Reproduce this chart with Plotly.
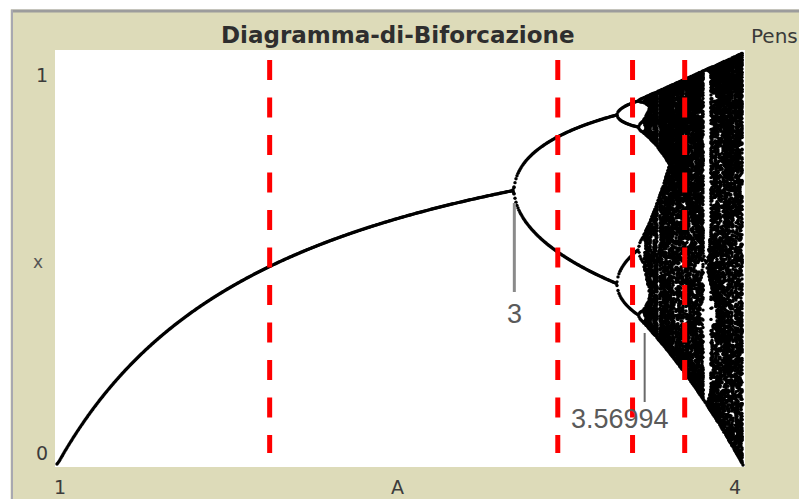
import numpy as np
import plotly.graph_objects as go

# Logistic map x -> A*x*(1-x): parameter sweep and iteration settings
a_range = [1.0, 4.0]
a_columns = 687          # one parameter value per pixel column
transient_steps = 400
recorded_steps = 220
x_start = 0.5

# Reference parameter values marked on the diagram
marker_a = [1.93, 3.19, 3.517, 3.745]
onset_labels = [3.0, 3.56994]

# --- iterate the map -------------------------------------------------------
A = np.linspace(a_range[0], a_range[1], a_columns)
x = np.full_like(A, x_start)
for _ in range(transient_steps):
    x = A * x * (1 - x)
col_idx, vals = [], []
for _ in range(recorded_steps):
    x = A * x * (1 - x)
    col_idx.append(np.arange(a_columns))
    vals.append(x.copy())
col_idx = np.concatenate(col_idx)
vals = np.concatenate(vals)
# drop points that land on the same pixel in the same column
key = col_idx * 10000 + np.round(vals * 412).astype(int)
_, keep = np.unique(key, return_index=True)
pa = A[col_idx[keep]]
px = vals[keep]

fig = go.Figure()
fig.add_trace(go.Scatter(
    x=pa, y=px, mode="markers",
    marker=dict(color="black", size=3.4, line=dict(width=0)),
    hoverinfo="skip", showlegend=False,
))

# plot window: pixels 57..743 <-> A 1..4, 465..53 <-> x 0..1
L, R, T, B = 55, 54, 50, 32
W, H = 799, 499
pw, ph = W - L - R, H - T - B
xs = 3.0 / 686.0
ys = 1.0 / 412.0
x0 = 1.0 - 2 * xs
x1 = 4.0 + 2 * xs
y0 = -2 * ys
y1 = 1.0 + 3 * ys


def pxx(p):
    return (p - L) / pw


def pxy(p):
    return (H - B - p) / ph


def ay(p):
    return (465 - p) / 412.0


shapes = []
# red dashed parameter markers
for a in marker_a:
    shapes.append(dict(type="line", xref="x", yref="y", x0=a, x1=a,
                       y0=ay(60), y1=ay(453),
                       line=dict(color="#ff0000", width=5, dash="20px,17.5px"),
                       layer="above"))
# pointer lines for the labelled onsets
shapes.append(dict(type="line", xref="x", yref="y", x0=onset_labels[0], x1=onset_labels[0],
                   y0=ay(203), y1=ay(292), line=dict(color="#8a8a8a", width=3)))
shapes.append(dict(type="line", xref="x", yref="y", x0=onset_labels[1], x1=onset_labels[1],
                   y0=ay(333), y1=ay(402), line=dict(color="#6a6a6a", width=2)))
# window frame: white outside, grey edge
shapes.append(dict(type="rect", xref="paper", yref="paper",
                   x0=pxx(-2), x1=pxx(10.5), y0=pxy(H + 2), y1=pxy(-2),
                   fillcolor="white", line=dict(width=0), layer="above"))
shapes.append(dict(type="rect", xref="paper", yref="paper",
                   x0=pxx(-2), x1=pxx(W + 2), y0=pxy(9.5), y1=pxy(-2),
                   fillcolor="white", line=dict(width=0), layer="above"))
shapes.append(dict(type="line", xref="paper", yref="paper",
                   x0=pxx(11), x1=pxx(W + 2), y0=pxy(11), y1=pxy(11),
                   line=dict(color="#9c9c9c", width=3), layer="above"))
shapes.append(dict(type="line", xref="paper", yref="paper",
                   x0=pxx(12), x1=pxx(12), y0=pxy(10), y1=pxy(H + 2),
                   line=dict(color="#a8a8b0", width=2), layer="above"))

tick_font = dict(family="DejaVu Sans", size=19, color="#3c3c3c")
annotations = [
    dict(text="<b>Diagramma-di-Biforcazione</b>", x=pxx(397), y=pxy(35),
         font=dict(family="DejaVu Sans", size=23, color="#2e2e2e")),
    dict(text="Pens", x=pxx(749), y=pxy(36), xanchor="left",
         font=dict(family="DejaVu Sans", size=20, color="#3a3a3a")),
    dict(text="1", x=pxx(42), y=pxy(75), font=tick_font),
    dict(text="0", x=pxx(42), y=pxy(453), font=tick_font),
    dict(text="x", x=pxx(38), y=pxy(262), font=dict(family="DejaVu Sans", size=17, color="#555555")),
    dict(text="1", x=pxx(60), y=pxy(487), font=tick_font),
    dict(text="A", x=pxx(397), y=pxy(487), font=tick_font),
    dict(text="4", x=pxx(735), y=pxy(487), font=tick_font),
    dict(text="3", xref="x", yref="y", x=onset_labels[0], y=ay(314),
         font=dict(family="Liberation Sans", size=27, color="#5a5a5a")),
    dict(text=f"{onset_labels[1]:.5f}", xref="x", yref="y", x=1 + (620 - 57) / 228.67, y=ay(419),
         font=dict(family="Liberation Sans", size=27, color="#5a5a5a")),
]
for a in annotations:
    a.setdefault("xref", "paper")
    a.setdefault("yref", "paper")
    a.setdefault("xanchor", "center")
    a.setdefault("yanchor", "middle")
    a["showarrow"] = False

fig.update_layout(
    width=W, height=H,
    margin=dict(l=L, r=R, t=T, b=B, pad=0),
    paper_bgcolor="#dddbb9",
    plot_bgcolor="white",
    xaxis=dict(range=[x0, x1], showgrid=False, zeroline=False, showticklabels=False,
               ticks="", showline=False, fixedrange=True),
    yaxis=dict(range=[y0, y1], showgrid=False, zeroline=False, showticklabels=False,
               ticks="", showline=False, fixedrange=True),
    shapes=shapes,
    annotations=annotations,
)

fig.write_html("out.html", config={"displayModeBar": False})
